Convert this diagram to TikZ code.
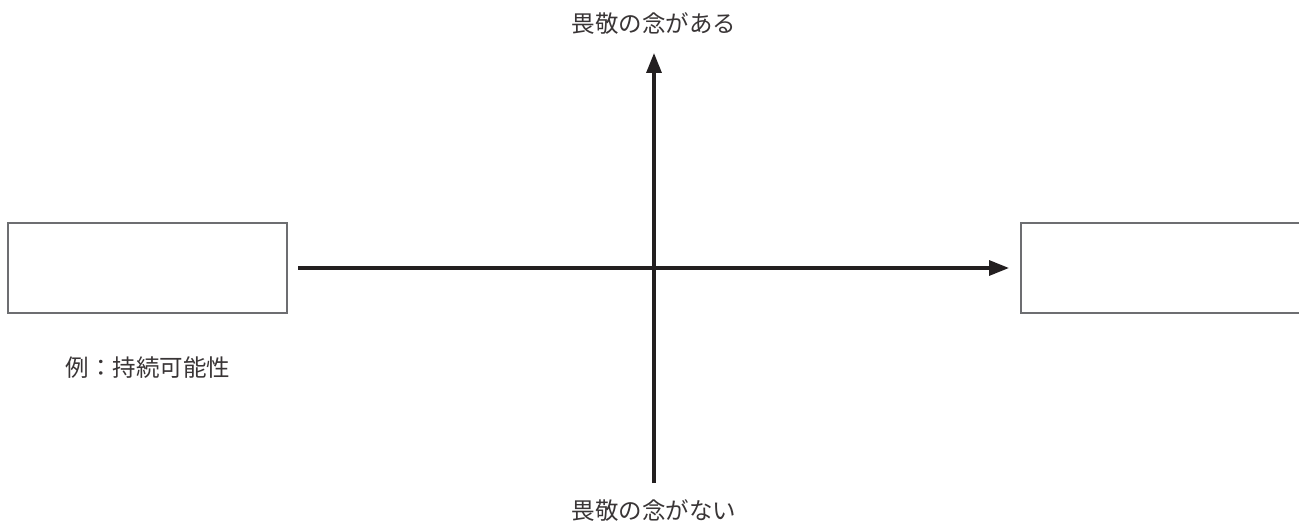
\documentclass[tikz,border=0pt]{standalone}
\usepackage{fontspec}
\newfontfamily\jp{Noto Sans CJK JP}
\usetikzlibrary{arrows.meta}
\definecolor{axiscol}{HTML}{231F20}
\definecolor{boxcol}{HTML}{6D6E71}
\tikzset{
  box/.style={draw=boxcol, line width=1.2pt, minimum height=90pt, inner sep=0pt, outer sep=0pt},
  axis/.style={draw=axiscol, line width=3.2pt, -{Triangle[length=20pt,width=15pt]}},
  lbl/.style={font=\jp\fontsize{23.5}{28}\selectfont, text=axiscol!90, inner sep=0pt}
}
\begin{document}
\begin{tikzpicture}[x=1pt,y=-1pt]
\useasboundingbox[fill=white] (0,0) rectangle (1299,524);
\clip (0,0) rectangle (1299,524);
\node[box, minimum width=279pt] (L) at (147.5,268) {};
\node[box, minimum width=320pt] (R) at (1181,268) {};
\node[lbl] (top) at (654,24) {畏敬の念がある};
\node[lbl] (bot) at (654,511) {畏敬の念がない};
\node[lbl] (ex) at (148,368) {例：持続可能性};
\coordinate (vb) at (654,483);
\coordinate (vt) at (654,53);
\coordinate (hl) at (298,268);
\coordinate (hr) at (1009,268);
\draw[axis] (vb) -- (vt);
\draw[axis] (hl) -- (hr);
\end{tikzpicture}
\end{document}
